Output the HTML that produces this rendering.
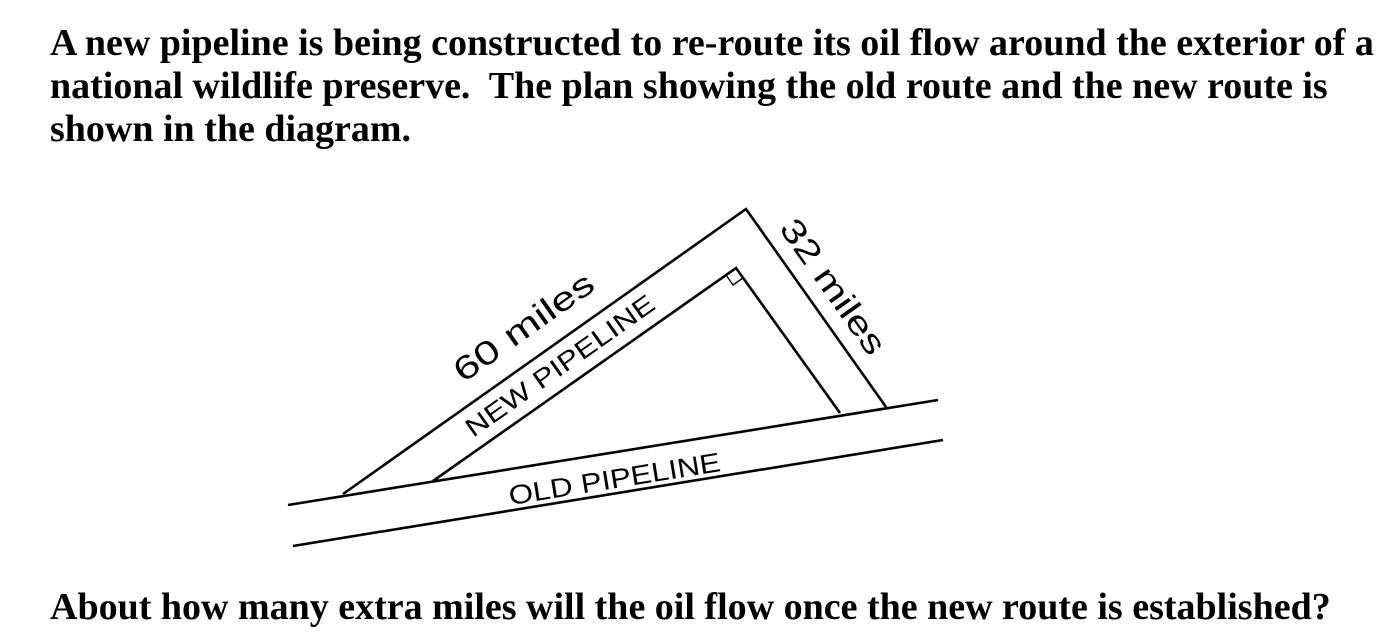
<!DOCTYPE html>
<html><head><style>
html,body{margin:0;padding:0;background:#fff;width:1396px;height:638px;overflow:hidden}
.t{position:absolute;left:50px;font-family:"Liberation Serif",serif;font-weight:bold;font-size:38px;color:#000;white-space:nowrap}
</style></head><body>
<div class="t" style="top:22px;line-height:43px">A new pipeline is being constructed to re-route its oil flow around the exterior of a<br>national wildlife preserve.&nbsp; The plan showing the old route and the new route is<br>shown in the diagram.</div>
<div class="t" style="top:586px;line-height:43px">About how many extra miles will the oil flow once the new route is established?</div>
<svg width="1396" height="638" style="position:absolute;left:0;top:0" xmlns="http://www.w3.org/2000/svg">
<g stroke="#000" stroke-width="2.6" fill="none" stroke-linejoin="miter">
<line x1="288" y1="505" x2="938" y2="400"/>
<line x1="293" y1="546" x2="943" y2="440"/>
<polyline points="343,494 746,209 886,407"/>
<polyline points="433,481 736,268 840,413"/>
<polyline stroke-width="1.4" points="726,275 733,285 743,278"/>
</g>
<g font-family="Liberation Sans, sans-serif" fill="#000">
<text transform="translate(530,336) rotate(-35.3)" text-anchor="middle" font-size="33" textLength="164" lengthAdjust="spacingAndGlyphs">60 miles</text>
<text transform="translate(565,373) rotate(-35.3)" text-anchor="middle" font-size="26" textLength="225" lengthAdjust="spacingAndGlyphs">NEW PIPELINE</text>
<text transform="translate(824,293) rotate(54.7)" text-anchor="middle" font-size="33" textLength="158" lengthAdjust="spacingAndGlyphs">32 miles</text>
<text transform="translate(616,488) rotate(-9.2)" text-anchor="middle" font-size="27" textLength="214" lengthAdjust="spacingAndGlyphs">OLD PIPELINE</text>
</g>
</svg>
</body></html>
